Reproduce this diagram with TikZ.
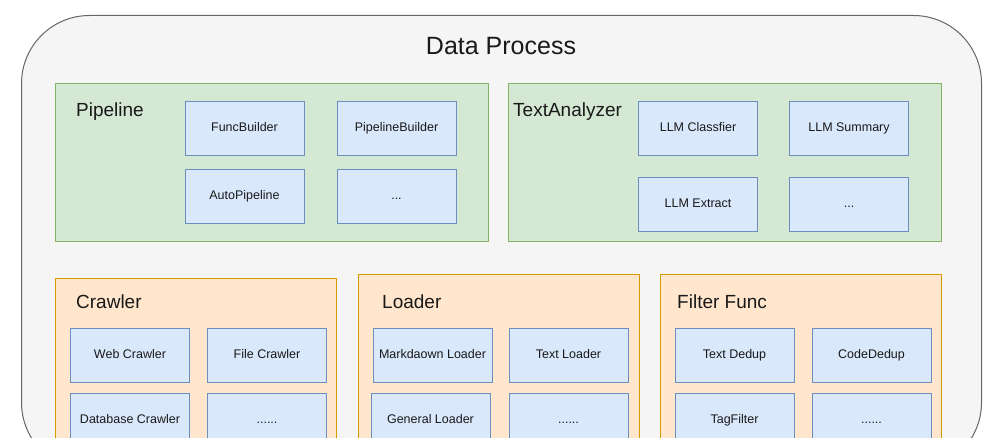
\documentclass[tikz,border=0pt]{standalone}
\usepackage{fontspec}
\setmainfont{Liberation Sans}
\usetikzlibrary{positioning}
\definecolor{outerfill}{HTML}{F5F5F5}
\definecolor{outerline}{HTML}{666666}
\definecolor{greenfill}{HTML}{D5E8D4}
\definecolor{greenline}{HTML}{82B366}
\definecolor{orangefill}{HTML}{FFE6CC}
\definecolor{orangeline}{HTML}{D79B00}
\definecolor{itemfill}{HTML}{DAE8FC}
\definecolor{itemline}{HTML}{6C8EBF}
\tikzset{
x=1pt, y=-1pt, % one unit is one pixel of the drawing, y grows downwards
node distance=10pt and 17pt, % gap between the small boxes, change per group if necessary
every node/.style={text=black!90},
outer/.style={draw=outerline, fill=outerfill, line width=1pt, rounded corners=68pt, anchor=north west, minimum width=960pt, minimum height=455pt}, % the big frame
greenbox/.style={draw=greenline, fill=greenfill, line width=1pt, anchor=north west, minimum width=433pt, minimum height=158pt},
orangebox/.style={draw=orangeline, fill=orangefill, line width=1pt, anchor=north west, minimum width=281pt, minimum height=185pt},
item/.style={draw=itemline, fill=itemfill, line width=1pt, inner sep=0pt, text height=9pt, text depth=2.5pt, minimum width=119pt, minimum height=54pt, font=\fontsize{12.5}{14}\selectfont}, % the blue boxes
grouplabel/.style={anchor=base west, inner sep=0pt, font=\fontsize{19}{22}\selectfont},
}

\begin{document}
\begin{tikzpicture}
    \clip (0,0) rectangle (1000,438);

    \node[outer] (dp) at (21,15) {};
    \node[anchor=base, inner sep=0pt, font=\fontsize{25}{28}\selectfont] (dptitle) at (501,55) {Data Process};

    % upper row
    \node[greenbox] (pipe) at (55,83) {};
    \node[grouplabel] (pipelabel) at (76,117) {Pipeline};
    \node[item] (fb) at (244.5,128.5) {FuncBuilder};
    \node[item, right=32pt of fb] (pb) {PipelineBuilder};
    \node[item, below=13pt of fb] (ap) {AutoPipeline};
    \node[item, below=13pt of pb] (pdots) {...};

    \node[greenbox] (ta) at (508,83) {};
    \node[grouplabel] (talabel) at (513,117) {TextAnalyzer};
    \node[item] (lc) at (698,128.5) {LLM Classfier};
    \node[item, right=31pt of lc] (ls) {LLM Summary};
    \node[item, below=21pt of lc] (le) {LLM Extract};
    \node[item, below=21pt of ls] (tdots) {...};

    % lower row
    \node[orangebox] (crawl) at (55,278) {};
    \node[grouplabel] (crawllabel) at (76,308) {Crawler};
    \node[item] (wc) at (130,355) {Web Crawler};
    \node[item, right=of wc] (fc) {File Crawler};
    \node[item, below=of wc] (dc) {Database Crawler};
    \node[item, below=of fc] (cdots) {......};

    \node[orangebox] (load) at (358,274) {};
    \node[grouplabel] (loadlabel) at (382,308) {Loader};
    \node[item] (ml) at (432.5,355) {Markdaown Loader};
    \node[item, right=16pt of ml] (tl) {Text Loader};
    \node[item, below=of ml, xshift=-2pt] (gl) {General Loader};
    \node[item, below=of tl] (ldots) {......};

    \node[orangebox] (filt) at (660,274) {};
    \node[grouplabel] (filtlabel) at (677,308) {Filter Func};
    \node[item] (td) at (734.5,355) {Text Dedup};
    \node[item, right=of td] (cd) {CodeDedup};
    \node[item, below=of td] (tf) {TagFilter};
    \node[item, below=of cd] (fdots) {......};
\end{tikzpicture}
\end{document}
